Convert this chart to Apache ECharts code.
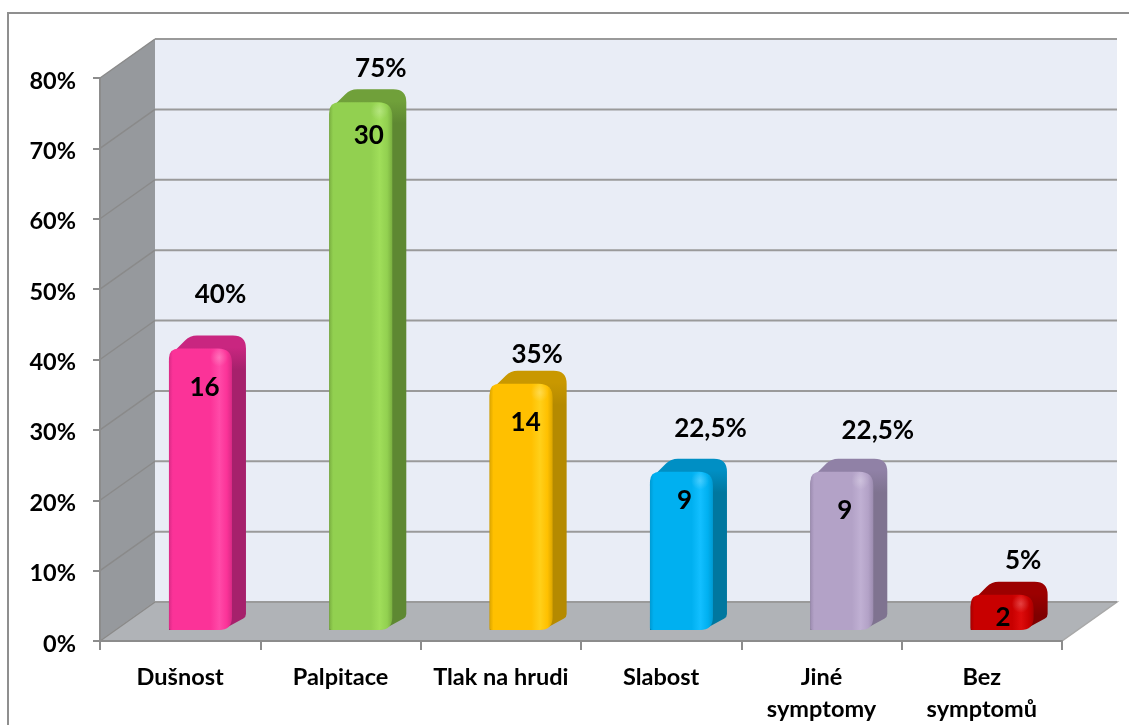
<!DOCTYPE html>
<html>
<head>
<meta charset="utf-8">
<style>html,body{margin:0;padding:0;background:#fff}#c{width:1129px;height:725px}</style>
<script src="https://cdn.jsdelivr.net/npm/echarts@6/dist/echarts.min.js"></script>
</head>
<body>
<div id="c"></div>
<script>
const categories = ['Dušnost', 'Palpitace', 'Tlak na hrudi', 'Slabost', 'Jiné\nsymptomy', 'Bez\nsymptomů'];
const percentValues = [40, 75, 35, 22.5, 22.5, 5];
const countValues = [16, 30, 14, 9, 9, 2];
const percentLabels = ['40%', '75%', '35%', '22,5%', '22,5%', '5%'];
const yTicks = [0, 10, 20, 30, 40, 50, 60, 70, 80];

// styles: [edge, base, light, top, side]
const barColors = [
  ['#d92a86', '#fb3398', '#ff4aa8', '#c92680', '#a6216c'],
  ['#7aaf40', '#92d050', '#a0de5a', '#70a03a', '#5e8832'],
  ['#dba500', '#ffc000', '#ffd01a', '#c99800', '#b58a00'],
  ['#009ad2', '#00b0f0', '#12bfff', '#008fc4', '#00779f'],
  ['#9c8cb0', '#b3a2c7', '#c0b0d3', '#9081a6', '#7f7390'],
  ['#a80000', '#c80000', '#de0c0c', '#9c0000', '#7f0000']
];
// label placement relative to the front-top centre of each bar
const pctOffsets = [[20, -54], [20, -34], [16, -29], [29, -43], [36, -41], [21, -34]];
const countOffsets = [[4, 39], [8, 33], [4.5, 39], [3, 29], [3, 39], [1, 23]];

const FAMILY = 'Lato, "Open Sans", sans-serif';
const DATA_SIZE = 26, AXIS_SIZE = 23.5;
const DX = 55, DY = -39;          // chart-box depth
const BDX = 14, BDY = -13;        // bar depth
const BAR_W = 63;
const BAR_SHIFT_X = 20.3, BAR_SHIFT_Y = -11;

echarts.graphic.registerShape('roundPoly', echarts.graphic.extendShape({
  type: 'roundPoly',
  shape: { pts: [] },
  buildPath(ctx, shape) {
    const p = shape.pts, n = p.length;
    if (!n) return;
    const toward = (a, b, r) => {
      const dx = b[0] - a[0], dy = b[1] - a[1], l = Math.hypot(dx, dy) || 1;
      const k = Math.min(r, l / 2) / l;
      return [a[0] + dx * k, a[1] + dy * k];
    };
    for (let i = 0; i < n; i++) {
      const cur = p[i], prev = p[(i + n - 1) % n], next = p[(i + 1) % n], r = cur[2] || 0;
      const a = toward(cur, prev, r), b = toward(cur, next, r);
      if (i === 0) ctx.moveTo(a[0], a[1]); else ctx.lineTo(a[0], a[1]);
      ctx.quadraticCurveTo(cur[0], cur[1], b[0], b[1]);
    }
    ctx.closePath();
  }
}));

const G = echarts.graphic;

function renderWalls(params, api) {
  const cs = params.coordSys;
  const x0 = cs.x, x1 = cs.x + cs.width;
  const yAt = v => api.coord([0, v])[1];
  const y0 = yAt(0), yTop = yAt(yTicks[yTicks.length - 1]);
  const children = [];
  children.push({ type: 'polygon', shape: { points: [[x0 + DX, yTop + DY], [x1 + DX, yTop + DY], [x1 + DX, y0 + DY], [x0 + DX, y0 + DY]] },
    style: { fill: '#e9edf6' } });
  children.push({ type: 'polygon', shape: { points: [[x0, yTop], [x0 + DX, yTop + DY], [x0 + DX, y0 + DY], [x0, y0]] },
    style: { fill: '#96999d' } });
  children.push({ type: 'polygon', shape: { points: [[x0, y0], [x0 + DX, y0 + DY], [x1 + DX, y0 + DY], [x1, y0]] },
    style: { fill: '#b0b3b7', stroke: '#a8a8a8', lineWidth: 1.5 } });
  yTicks.forEach(v => {
    const y = yAt(v);
    children.push({ type: 'line', shape: { x1: x0, y1: y, x2: x0 + DX, y2: y + DY }, style: { stroke: '#8a8a8a', lineWidth: 1.5 } });
    children.push({ type: 'line', shape: { x1: x0 + DX, y1: y + DY, x2: x1 + DX, y2: y + DY }, style: { stroke: '#9a9a9a', lineWidth: 2 } });
  });
  return { type: 'group', children };
}

function labelStyle(text) {
  return { text, fontFamily: FAMILY, fontSize: DATA_SIZE, fontWeight: 700, fill: '#000', align: 'center', verticalAlign: 'middle' };
}

function renderBar(params, api) {
  const i = params.dataIndex;
  const pTop = api.coord([api.value(0), api.value(1)]);
  const pBase = api.coord([api.value(0), 0]);
  const xc = pBase[0] + BAR_SHIFT_X;
  const xL = xc - BAR_W / 2, xR = xc + BAR_W / 2;
  const yB = pBase[1] + BAR_SHIFT_Y, yT = pTop[1] + BAR_SHIFT_Y;
  const c = barColors[i];
  const backTop = yT + BDY;
  const fade = Math.min(backTop + 34, yB + BDY);
  const children = [
    // top + side silhouette
    { type: 'roundPoly', shape: { pts: [[xL, yT + 8, 4], [xL + BDX + 7, backTop, 7], [xR + BDX, backTop, 13], [xR + BDX, yB + BDY, 3], [xR - 10, yB, 6], [xL, yB, 0]] },
      style: { fill: new G.LinearGradient(0, backTop, 0, fade, [
        { offset: 0, color: c[3] }, { offset: 0.35, color: c[3] }, { offset: 1, color: c[4] }
      ], true) } },
    // front face
    { type: 'roundPoly', shape: { pts: [[xL, yT, 10], [xR, yT, 14], [xR, yB, 13], [xL, yB, 2]] },
      style: { fill: new G.LinearGradient(0, 0, 1, 0, [
        { offset: 0, color: c[0] }, { offset: 0.06, color: c[1] },
        { offset: 0.66, color: c[1] }, { offset: 0.8, color: c[2] },
        { offset: 0.92, color: c[1] }, { offset: 1, color: c[0] }
      ]) } },
    { type: 'circle', shape: { cx: xR - 13, cy: yT + 9, r: 9 },
      style: { fill: new G.RadialGradient(0.5, 0.5, 0.5, [
        { offset: 0, color: 'rgba(255,255,255,0.22)' }, { offset: 1, color: 'rgba(255,255,255,0)' }
      ]) } },
    { type: 'text', x: xc + countOffsets[i][0], y: yT + countOffsets[i][1], style: labelStyle(String(api.value(2))) },
    { type: 'text', x: xc + pctOffsets[i][0], y: yT + pctOffsets[i][1], style: labelStyle(percentLabels[i]) }
  ];
  return { type: 'group', children };
}

const axisLine = { lineStyle: { color: '#8c8c8c', width: 2 } };
const chart = echarts.init(document.getElementById('c'), null, { renderer: 'canvas' });
chart.setOption({
  animation: false,
  backgroundColor: '#fff',
  graphic: [{ type: 'rect', shape: { x: 8, y: 13, width: 1200, height: 800 }, style: { fill: 'none', stroke: '#8f8f8f', lineWidth: 2 }, silent: true, z: -1 }],
  grid: { left: 100, top: 78, width: 962, height: 563 },
  xAxis: {
    type: 'category', data: categories, z: 5,
    axisLine: { show: true, ...axisLine },
    axisTick: { show: true, alignWithLabel: false, length: 9, lineStyle: { color: '#8c8c8c', width: 2 } },
    axisLabel: { interval: 0, color: '#000', fontFamily: FAMILY, fontWeight: 700, fontSize: AXIS_SIZE, margin: 20, lineHeight: 32 },
    splitLine: { show: false }
  },
  yAxis: {
    type: 'value', min: 0, max: 80, interval: 10, z: 5,
    axisLine: { show: true, ...axisLine },
    axisTick: { show: true, length: 7, lineStyle: { color: '#8c8c8c', width: 2 } },
    axisLabel: { color: '#000', fontFamily: FAMILY, fontWeight: 700, fontSize: AXIS_SIZE, margin: 24, verticalAlign: 'top', lineHeight: 6, formatter: '{value}%' },
    splitLine: { show: false }
  },
  series: [
    { type: 'custom', name: 'walls', z: 1, silent: true, clip: false, data: [[0, 0]], encode: { x: 0, y: 1 }, renderItem: renderWalls },
    { type: 'custom', name: 'bars', z: 2, silent: true, clip: false,
      data: percentValues.map((v, i) => [i, v, countValues[i]]),
      encode: { x: 0, y: 1 }, renderItem: renderBar }
  ]
});
</script>
</body>
</html>
